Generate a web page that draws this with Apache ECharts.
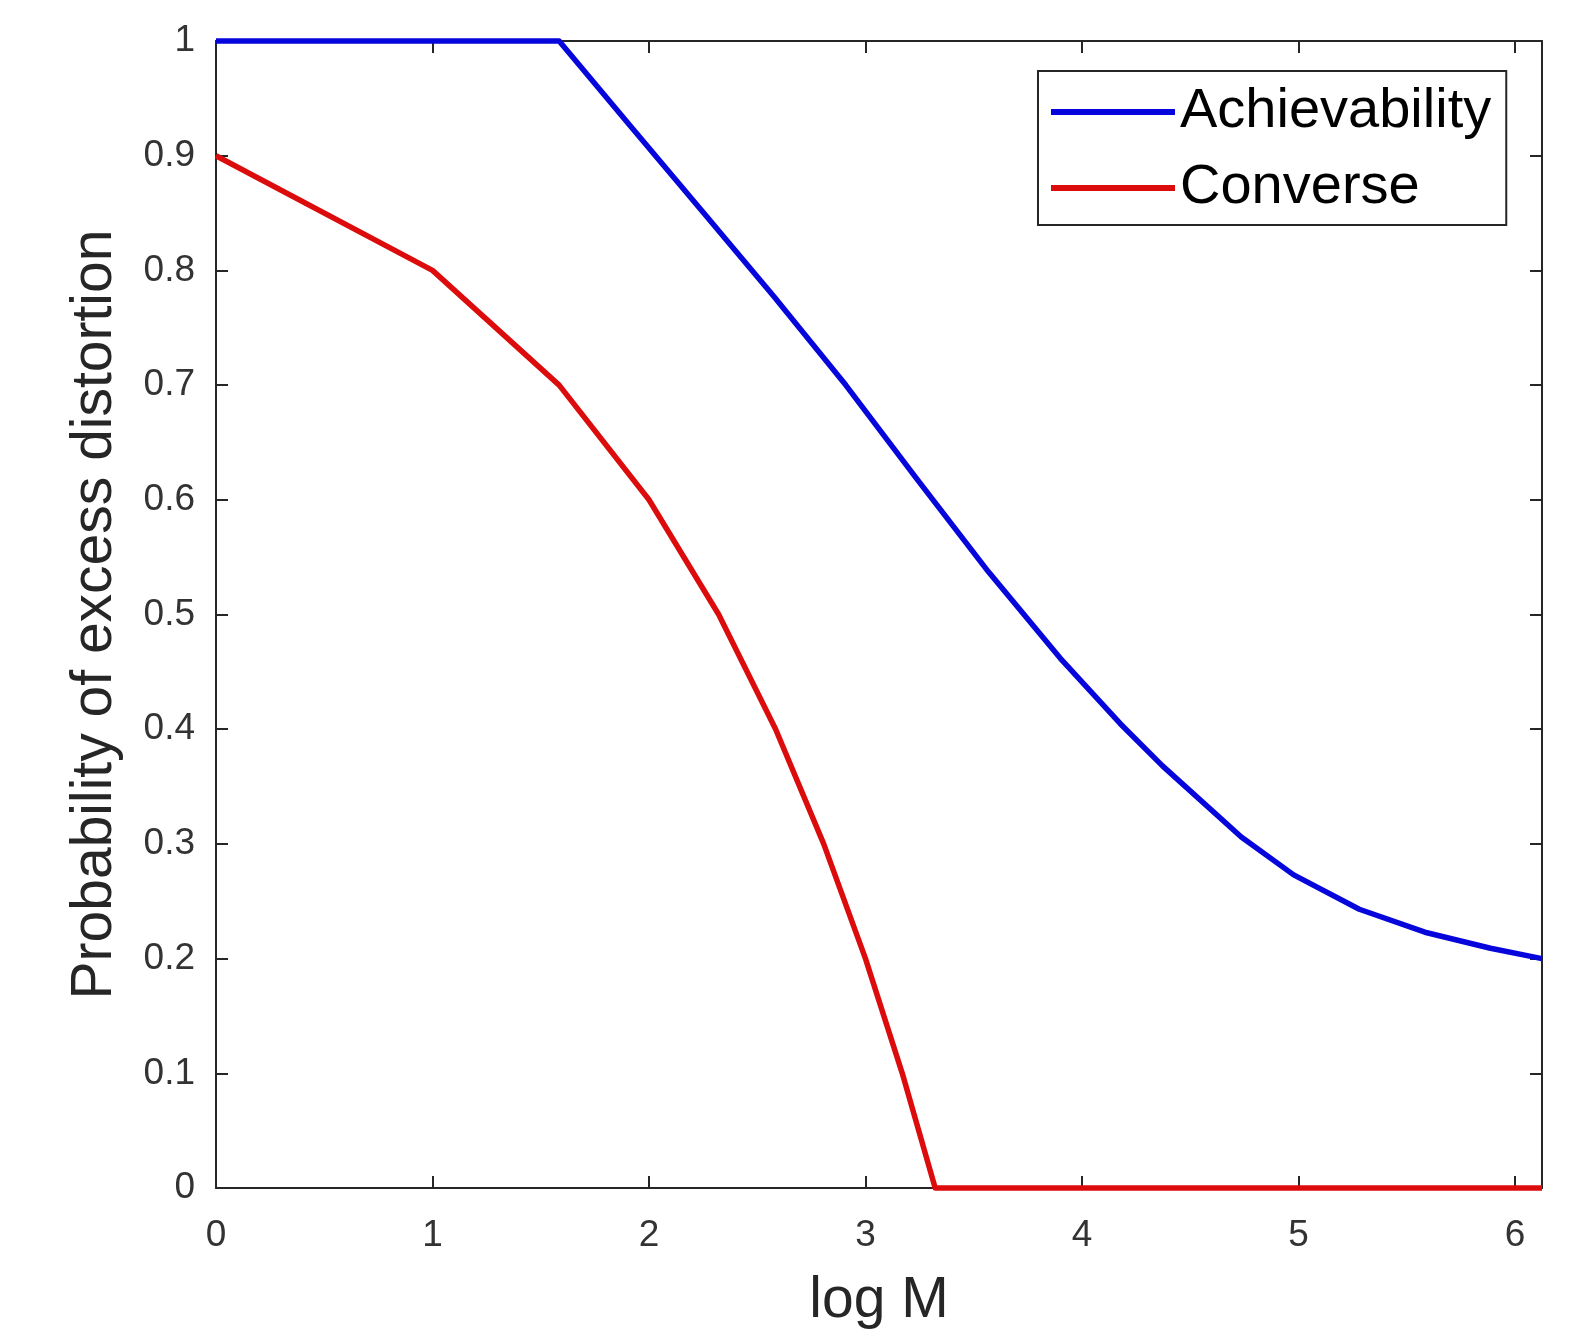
<!DOCTYPE html>
<html>
<head>
<meta charset="utf-8">
<script src="https://cdn.jsdelivr.net/npm/echarts@6/dist/echarts.min.js"></script>
<style>
	html, body {
		margin: 0;
		padding: 0;
		background: #ffffff;
	}
	#chart {
		width: 1584px;
		height: 1329px;
	}
</style>
</head>
<body>
<div id="chart"></div>
<script>
// log M values
let achX = [0, 1.585, 1.918, 2.249, 2.578, 2.909, 3.238, 3.569, 3.899, 4.176, 4.372, 4.736, 4.978, 5.281, 5.584, 5.887, 6.125];
let achY = [1, 1, 0.925, 0.851, 0.777, 0.7, 0.618, 0.537, 0.462, 0.405, 0.368, 0.306, 0.273, 0.243, 0.223, 0.209, 0.2];
let convX = [0, 1, 1.585, 2, 2.322, 2.585, 2.807, 3, 3.17, 3.322, 6.125];
let convY = [0.9, 0.8, 0.7, 0.6, 0.5, 0.4, 0.3, 0.2, 0.1, 0, 0];
let seriesNames = ['Achievability', 'Converse'];
let seriesColors = ['#0606dc', '#dc0c0c'];

let fontName = '"Liberation Sans", Arial, Helvetica, sans-serif';
let axisColor = '#262626';

function pairs(xs, ys) {
	let arr = [];
	for (let i = 0; i < xs.length; i++)
		arr.push([xs[i], ys[i]]);
	return arr;
}

let myChart = echarts.init(document.getElementById('chart'), null, { renderer: 'canvas' });

let boxAxis = function(pos, isX) {
	let ax = {
		type: 'value',
		position: pos,
		min: 0,
		max: isX ? 6.125 : 1,
		interval: isX ? 1 : 0.1,
		axisLine: { show: true, onZero: false, lineStyle: { color: axisColor, width: 2 } },
		axisTick: { show: true, inside: true, length: 12, lineStyle: { color: axisColor, width: 2 } },
		axisLabel: { show: false },
		splitLine: { show: false }
	};
	return ax;
};

let xBottom = boxAxis('bottom', true);
xBottom.name = 'log M';
xBottom.nameLocation = 'middle';
xBottom.nameGap = 85;
xBottom.nameTextStyle = { fontFamily: fontName, fontSize: 57, color: axisColor };
xBottom.axisLabel = {
	show: true,
	margin: 29,
	showMaxLabel: false,
	fontFamily: fontName,
	fontSize: 37,
	color: '#333333'
};

let yLeft = boxAxis('left', false);
yLeft.name = 'Probability of excess distortion';
yLeft.nameLocation = 'middle';
yLeft.nameGap = 92;
yLeft.nameTextStyle = { fontFamily: fontName, fontSize: 57, color: axisColor };
yLeft.axisLabel = {
	show: true,
	margin: 21,
	fontFamily: fontName,
	fontSize: 37,
	color: '#333333',
	formatter: function(v) {
		return String(Math.round(v * 10) / 10);
	}
};

let option = {
	animation: false,
	backgroundColor: '#ffffff',
	grid: {
		left: 216,
		right: 42,
		top: 41,
		bottom: 141,
		containLabel: false,
		outerBoundsMode: 'none'
	},
	legend: {
		data: seriesNames,
		orient: 'vertical',
		left: 1038,
		top: 71,
		width: 470,
		padding: [13, 15, 9, 13],
		itemGap: 20,
		itemWidth: 124,
		itemHeight: 6,
		icon: 'rect',
		borderColor: axisColor,
		borderWidth: 2,
		backgroundColor: '#ffffff',
		textStyle: {
			fontFamily: fontName,
			fontSize: 56,
			color: '#000000'
		}
	},
	xAxis: [xBottom, boxAxis('top', true)],
	yAxis: [yLeft, boxAxis('right', false)],
	series: [
		{
			name: seriesNames[0],
			type: 'line',
			data: pairs(achX, achY),
			showSymbol: false,
			symbol: 'none',
			clip: false,
			color: seriesColors[0],
			lineStyle: { width: 5.5, color: seriesColors[0], join: 'round' }
		},
		{
			name: seriesNames[1],
			type: 'line',
			data: pairs(convX, convY),
			showSymbol: false,
			symbol: 'none',
			clip: false,
			color: seriesColors[1],
			lineStyle: { width: 5.5, color: seriesColors[1], join: 'round' }
		}
	]
};

myChart.setOption(option);
</script>
</body>
</html>
